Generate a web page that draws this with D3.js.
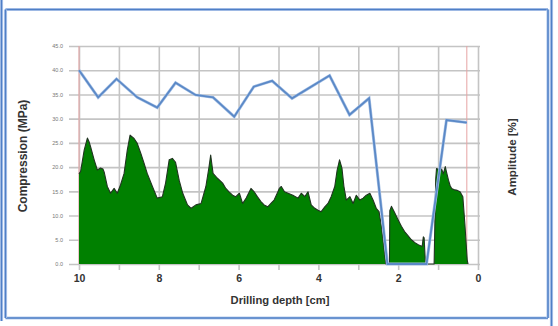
<!DOCTYPE html>
<html>
<head>
<meta charset="utf-8">
<script src="https://cdn.jsdelivr.net/npm/d3@7"></script>
<style>
  html, body { margin: 0; padding: 0; background: #fff; }
  svg { display: block; }
  text { font-family: "Liberation Sans", Arial, sans-serif; }
</style>
</head>
<body>
<svg id="chart" width="558" height="326"></svg>
<script>
// Drilling profile: compression (area) and amplitude (line) versus depth
const compDepth = [
  10.00, 9.96, 9.87, 9.79, 9.75, 9.71, 9.62, 9.54, 9.46, 9.40, 9.37, 9.29, 9.21, 9.12, 9.04,
  8.96, 8.87, 8.79, 8.72, 8.62, 8.54, 8.45, 8.37, 8.29, 8.16, 8.04, 7.91, 7.83, 7.74, 7.66,
  7.58, 7.49, 7.40, 7.28, 7.19, 7.07, 6.94, 6.82, 6.74, 6.70, 6.64, 6.53, 6.40, 6.32, 6.24,
  6.15, 6.07, 5.98, 5.90, 5.81, 5.69, 5.61, 5.53, 5.44, 5.36, 5.27, 5.19, 5.11, 5.02, 4.98,
  4.93, 4.85, 4.76, 4.64, 4.51, 4.43, 4.34, 4.26, 4.18, 4.09, 4.01, 3.93, 3.84, 3.76, 3.68,
  3.59, 3.53, 3.47, 3.41, 3.36, 3.30, 3.21, 3.13, 3.05, 2.96, 2.88, 2.80, 2.71, 2.63, 2.55,
  2.48, 2.42, 2.36, 2.31, 2.22, 2.21, 2.17, 2.10, 2.00, 1.92, 1.84, 1.75, 1.67, 1.58, 1.50,
  1.40, 1.37, 1.35, 1.32, 1.30, 1.10, 1.06, 1.04, 0.98, 0.95, 0.91, 0.87, 0.82, 0.79, 0.74,
  0.70, 0.66, 0.58, 0.52, 0.45, 0.38, 0.33, 0.27, 0.25
];
const compValue = [
  18.6, 19.1, 23.5, 26.0, 25.3, 24.2, 21.5, 19.4, 19.8, 19.6, 19.0, 16.0, 14.6, 15.6, 14.6,
  16.3, 18.7, 23.5, 26.6, 25.9, 24.9, 22.8, 20.8, 18.7, 16.0, 13.6, 13.9, 16.7, 21.5, 21.8,
  21.0, 17.3, 14.6, 12.2, 11.5, 12.2, 12.5, 16.0, 20.1, 22.5, 18.7, 17.7, 16.7, 15.6, 14.9,
  14.2, 13.9, 14.6, 12.5, 13.6, 15.6, 14.9, 13.9, 12.9, 12.2, 11.8, 12.5, 13.2, 14.8, 15.6,
  16.0, 14.9, 14.6, 14.2, 13.6, 14.6, 13.9, 14.9, 12.2, 11.5, 11.1, 10.8, 11.8, 12.5, 13.9,
  16.0, 19.4, 21.5, 19.8, 16.0, 13.2, 13.9, 12.5, 14.2, 13.2, 13.6, 14.2, 14.6, 13.2, 11.5,
  10.8, 7.7, 3.5, 0.0, 0.0, 11.0, 11.9, 10.8, 9.1, 7.8, 6.7, 5.8, 5.0, 4.4, 4.0,
  3.6, 5.6, 5.4, 0.5, 0.0, 0.0, 17.5, 19.7, 19.5, 19.1, 19.6, 18.6, 20.1, 19.0, 17.3,
  16.2, 15.6, 15.3, 15.2, 14.9, 13.9, 8.4, 0.8, 0.0
];

const ampDepth = [10.0, 9.52, 9.06, 8.54, 8.04, 7.58, 7.08, 6.64, 6.11, 5.62, 5.16, 4.66, 3.72, 3.22, 2.73, 2.27, 1.29, 0.79, 0.28];
const ampValue = [40.0, 34.4, 38.2, 34.4, 32.3, 37.4, 34.9, 34.4, 30.4, 36.6, 37.8, 34.2, 38.9, 30.8, 34.2, 0.0, 0.0, 29.7, 29.2];

const yTicks = [0, 5, 10, 15, 20, 25, 30, 35, 40, 45];
const xTicks = [10, 9, 8, 7, 6, 5, 4, 3, 2, 1, 0];
const xTickLabels = ["10", "", "8", "", "6", "", "4", "", "2", "", "0"];

const titleY = "Compression (MPa)";
const titleY2 = "Amplitude [%]";
const titleX = "Drilling depth [cm]";

const svg = d3.select("#chart");

const x = d3.scaleLinear().domain([10, 0]).range([79, 478]);
const y = d3.scaleLinear().domain([0, 45]).range([264, 46]);

// outer and inner frame
const frame = svg.append("g").attr("fill", "none");
function frameLine(x1, y1, x2, y2) {
  frame.append("line").attr("x1", x1).attr("y1", y1).attr("x2", x2).attr("y2", y2)
    .attr("stroke", "#b8cdee").attr("stroke-width", 3.2);
  frame.append("line").attr("x1", x1).attr("y1", y1).attr("x2", x2).attr("y2", y2)
    .attr("stroke", "#4f7fc6").attr("stroke-width", 1.5);
}
frameLine(1.5, 0, 1.5, 321);
frameLine(551.5, 0, 551.5, 326);
frameLine(5.5, 9.5, 548, 9.5);
frameLine(5.5, 318, 548, 318);
frameLine(5.5, 9.5, 5.5, 318);
frameLine(548, 9.5, 548, 318);

// horizontal grid with left tick labels
const yAxis = svg.append("g")
  .attr("transform", "translate(69,0)")
  .call(d3.axisLeft(y).tickValues(yTicks).tickFormat(d3.format(".1f"))
    .tickSize(-(480 - 69)).tickPadding(6));
yAxis.select(".domain").remove();
yAxis.selectAll(".tick line").attr("stroke", "#c4c4c4").attr("stroke-width", 1.6);
yAxis.selectAll(".tick text").attr("fill", "#777").attr("font-size", 5.5)
  .style("font-family", "'Liberation Sans', Arial, sans-serif");

// vertical grid with depth labels
const xAxis = svg.append("g")
  .attr("transform", "translate(0,270)")
  .call(d3.axisBottom(x).tickValues(xTicks)
    .tickFormat((d, i) => xTickLabels[i]).tickSize(-(270 - 46)).tickPadding(5));
xAxis.select(".domain").remove();
xAxis.selectAll(".tick line").attr("stroke", "#c4c4c4").attr("stroke-width", 1.6);
xAxis.selectAll(".tick text").attr("fill", "#333").attr("font-size", 10.5).attr("font-weight", "bold")
  .style("font-family", "'Liberation Sans', Arial, sans-serif");

// reference lines at the start and end of the amplitude record
const marks = [ampDepth[0], ampDepth[ampDepth.length - 1]];
svg.append("g").selectAll("line").data(marks).join("line")
  .attr("x1", d => x(d)).attr("x2", d => x(d))
  .attr("y1", y(45)).attr("y2", y(0))
  .attr("stroke", "#e6a3a3").attr("stroke-width", 1);

// compression area
const comp = compDepth.map((d, i) => ({ d, v: compValue[i] }));
const compArea = d3.area().x(p => x(p.d)).y0(y(0)).y1(p => y(p.v));
const compEdge = d3.line().x(p => x(p.d)).y(p => y(p.v));
svg.append("path").datum(comp).attr("d", compArea).attr("fill", "#008000");
svg.append("path").datum(comp).attr("d", compEdge).attr("fill", "none")
  .attr("stroke", "#203420").attr("stroke-width", 1.1).attr("stroke-linejoin", "round");

// amplitude line
const amp = ampDepth.map((d, i) => ({ d, v: ampValue[i] }));
const ampLine = d3.line().x(p => x(p.d)).y(p => y(p.v));
svg.append("path").datum(amp).attr("d", ampLine)
  .attr("fill", "none").attr("stroke", "#a8c2e6").attr("stroke-width", 3);
svg.append("path").datum(amp).attr("d", ampLine)
  .attr("fill", "none").attr("stroke", "#5b89c7").attr("stroke-width", 1.8);

// axis titles
svg.append("text").text(titleY)
  .attr("transform", "translate(23,156) rotate(-90)")
  .attr("text-anchor", "middle").attr("dominant-baseline", "central")
  .attr("font-size", 12).attr("font-weight", "bold").attr("fill", "#333");
svg.append("text").text(titleY2)
  .attr("transform", "translate(512,157) rotate(-90)")
  .attr("text-anchor", "middle").attr("dominant-baseline", "central")
  .attr("font-size", 11.5).attr("font-weight", "bold").attr("fill", "#333");
svg.append("text").text(titleX)
  .attr("x", 280).attr("y", 300)
  .attr("text-anchor", "middle").attr("dominant-baseline", "central")
  .attr("font-size", 11.2).attr("font-weight", "bold").attr("fill", "#333");
</script>
</body>
</html>
